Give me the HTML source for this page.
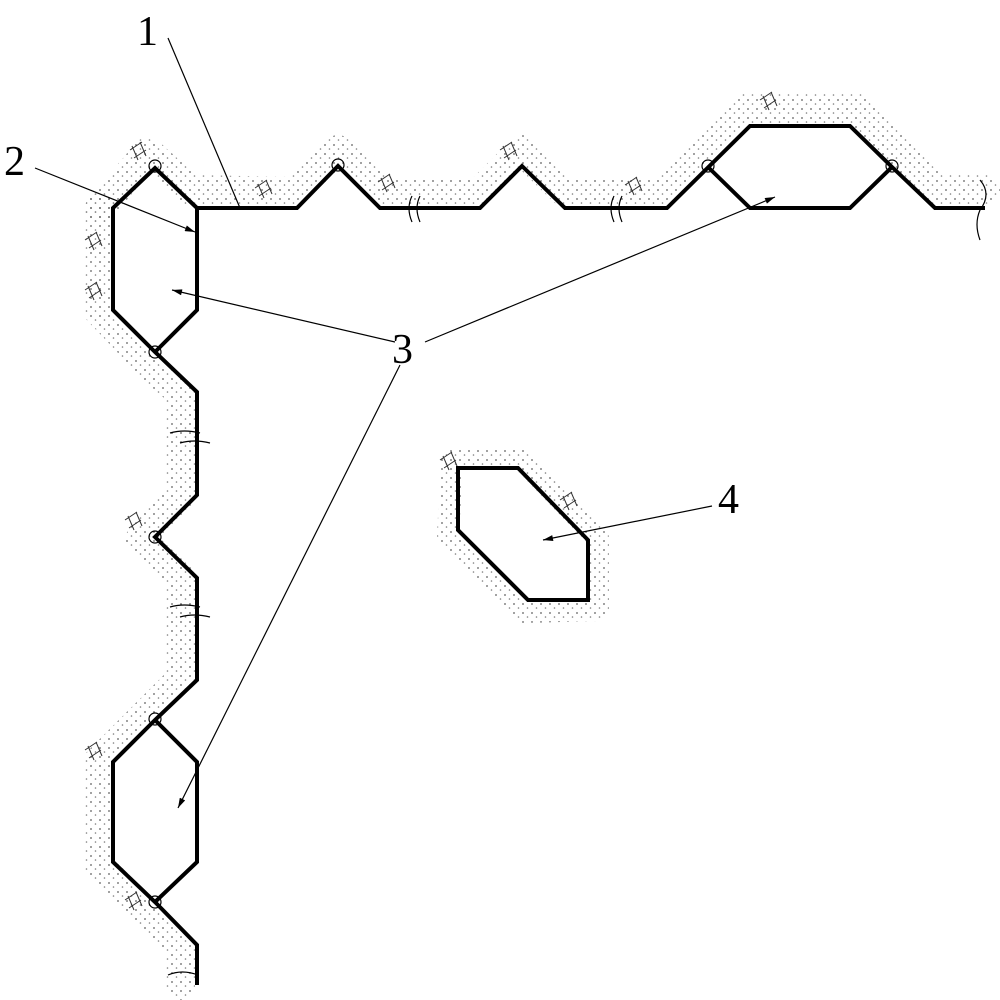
<!DOCTYPE html>
<html><head><style>body{margin:0;background:#fff}svg{display:block}</style></head><body>
<svg width="1000" height="1000" viewBox="0 0 1000 1000" xmlns="http://www.w3.org/2000/svg">
<defs>
<pattern id="dots" width="9" height="9" patternUnits="userSpaceOnUse">
<circle cx="1" cy="1" r="0.9" fill="#444"/><circle cx="5.5" cy="5" r="0.8" fill="#666"/>
</pattern>
<marker id="ar" viewBox="0 0 10 6" refX="10" refY="3" markerWidth="12" markerHeight="6" orient="auto" markerUnits="userSpaceOnUse"><path d="M0,0 L10,3 L0,6 z" fill="#000"/></marker>
</defs>
<g fill="none" stroke="url(#dots)" stroke-linejoin="round" stroke-linecap="round" opacity="0.85">
<polyline stroke-width="30" points="100,208 148,152 190,190 297,192 338,150 380,192 480,192 522,150 565,192 667,192 745,108 855,108 935,190 985,190"/>
<polyline stroke-width="30" points="100,208 98,310 155,370 180,392 180,495 140,540 180,578 180,680 98,762 98,862 180,945 180,985"/>
<polygon stroke-width="22" points="452,460 522,460 598,538 598,610 524,612 448,535"/>
</g>
<g fill="none" stroke="#333" stroke-width="1">
<path d="M130,150 l12,-8 M134,158 l12,-8 M132,146 l6,14 M140,142 l6,14"/>
<path d="M255,188 l12,-8 M259,196 l12,-8 M258,184 l6,14 M266,180 l6,14"/>
<path d="M378,182 l12,-8 M382,190 l12,-8 M381,178 l6,14 M389,174 l6,14"/>
<path d="M500,150 l12,-8 M504,158 l12,-8 M503,146 l6,14 M511,142 l6,14"/>
<path d="M625,185 l12,-8 M629,193 l12,-8 M628,181 l6,14 M636,177 l6,14"/>
<path d="M760,100 l12,-8 M764,108 l12,-8 M763,96 l6,14 M771,92 l6,14"/>
<path d="M85,240 l12,-8 M89,248 l12,-8 M88,236 l6,14 M96,232 l6,14"/>
<path d="M85,290 l12,-8 M89,298 l12,-8 M88,286 l6,14 M96,282 l6,14"/>
<path d="M125,520 l12,-8 M129,528 l12,-8 M128,516 l6,14 M136,512 l6,14"/>
<path d="M85,750 l12,-8 M89,758 l12,-8 M88,746 l6,14 M96,742 l6,14"/>
<path d="M125,900 l12,-8 M129,908 l12,-8 M128,896 l6,14 M136,892 l6,14"/>
<path d="M440,460 l12,-8 M444,468 l12,-8 M443,456 l6,14 M451,452 l6,14"/>
<path d="M560,500 l12,-8 M564,508 l12,-8 M563,496 l6,14 M571,492 l6,14"/>
</g>
<g fill="none" stroke="#000" stroke-width="4" stroke-linejoin="miter">
<polyline points="197,208 155,168 113,208 113,310 155,352 197,392 197,495 155,537 197,578 197,680 155,720 113,762 113,862 155,902 197,945 197,985"/>
<polyline points="155,352 197,310 197,208 297,208 338,166 380,208 480,208 522,166 565,208 667,208 750,126 850,126 892,167 935,208 985,208"/>
<polyline points="708,167 750,208 850,208 892,167"/>
<polyline points="155,720 197,762 197,862 155,902"/>
<polygon points="458,468 518,468 588,540 588,600 528,600 458,530"/>
</g>
<g fill="none" stroke="#000" stroke-width="1.2">
<circle cx="155" cy="166" r="6"/><circle cx="338" cy="165" r="6"/><circle cx="155" cy="352" r="6"/><circle cx="155" cy="537" r="6"/><circle cx="155" cy="719" r="6"/><circle cx="155" cy="902" r="6"/><circle cx="708" cy="166" r="6"/><circle cx="892" cy="166" r="6"/>
<path d="M412,196 q-6,12 0,26 M420,196 q-6,12 0,26 M614,196 q-6,12 0,26 M622,196 q-6,12 0,26 M980,180 q12,14 0,30 M980,210 q-6,14 0,30"/>
<path d="M170,433 q14,-4 30,0 M180,443 q14,-4 30,0 M170,607 q14,-4 30,0 M180,617 q14,-4 30,0 M168,975 q14,-6 30,0"/>
<line x1="168" y1="38" x2="240" y2="208"/>
<line x1="35" y1="168" x2="195" y2="232" marker-end="url(#ar)"/>
<line x1="395" y1="342" x2="172" y2="290" marker-end="url(#ar)"/>
<line x1="425" y1="342" x2="775" y2="197" marker-end="url(#ar)"/>
<line x1="400" y1="365" x2="178" y2="808" marker-end="url(#ar)"/>
<line x1="712" y1="506" x2="543" y2="540" marker-end="url(#ar)"/>
</g>
<g font-family="Liberation Serif, serif" font-size="42" fill="#000">
<text x="137" y="45">1</text><text x="4" y="175">2</text><text x="392" y="363">3</text><text x="718" y="513">4</text>
</g>
</svg>
</body></html>
